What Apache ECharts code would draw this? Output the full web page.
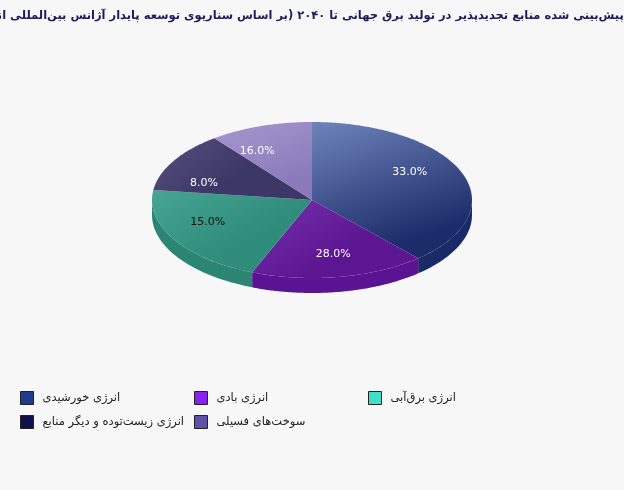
<!DOCTYPE html>
<html>
<head>
<meta charset="utf-8">
<script src="https://cdn.jsdelivr.net/npm/echarts@6/dist/echarts.min.js"></script>
<style>
  html, body { margin: 0; padding: 0; background: #f7f7f7; }
  #main { width: 624px; height: 490px; }
</style>
</head>
<body>
<div id="main"></div>
<script>
// داده‌ها
const titleText = 'سهم پیش‌بینی شده منابع تجدیدپذیر در تولید برق جهانی تا ۲۰۴۰ (بر اساس سناریوی توسعه پایدار آژانس بین‌المللی انرژی)';
const names = ['انرژی خورشیدی', 'انرژی بادی', 'انرژی برق‌آبی', 'انرژی زیست‌توده و دیگر منابع', 'سوخت‌های فسیلی'];
const values = [33, 28, 15, 8, 16];

// رنگ‌ها
const legendColors = ['#1f3b8c', '#8a22ee', '#40e0c8', '#10104f', '#5f50aa'];
const topColors = [
  ['#6f84bb', '#1c2c6a'],
  ['#7631ac', '#5c1692'],
  ['#47a594', '#2f8b7a'],
  ['#58517f', '#3d3767'],
  ['#a797cf', '#8a7aba']
];
const sideColors = ['#1a2a66', '#5a1392', '#2c8472', '#383260', '#8070b0'];
const labelColors = ['#fff', '#fff', '#111', '#fff', '#fff'];

const FONT = 'DejaVu Sans';
const cx = 312, cy = 200, rx = 160, ry = 78, depth = 15;
const total = values.reduce((a, b) => a + b, 0);

function rimPoint(deg, dy) {
  const t = deg * Math.PI / 180;
  const dx = Math.sin(t), dyv = -Math.cos(t);
  const r = 1 / Math.sqrt((dx / rx) * (dx / rx) + (dyv / ry) * (dyv / ry));
  return [cx + r * dx, cy + r * dyv + (dy || 0)];
}

function arc(a, b, dy) {
  const pts = [];
  const n = Math.max(2, Math.ceil(b - a));
  for (let k = 0; k <= n; k++) pts.push(rimPoint(a + (b - a) * k / n, dy));
  return pts;
}

function renderSlice(params, api) {
  const i = params.seriesIndex;
  let before = 0;
  for (let k = 0; k < i; k++) before += values[k];
  const a = before / total * 360;
  const b = (before + values[i]) / total * 360;
  const children = [];

  // دیواره
  const sa = Math.max(a, 90), sb = Math.min(b, 270);
  if (sa < sb) {
    const top = arc(sa, sb, 0);
    const bot = arc(sa, sb, depth).reverse();
    children.push({
      type: 'polygon', z2: 1,
      shape: { points: top.concat(bot) },
      style: { fill: sideColors[i] }
    });
  }

  // رویه
  children.push({
    type: 'polygon', z2: 2,
    shape: { points: [[cx, cy]].concat(arc(a, b, 0)) },
    style: {
      fill: new echarts.graphic.LinearGradient(0, 0, 0.3, 1, [
        { offset: 0, color: topColors[i][0] },
        { offset: 1, color: topColors[i][1] }
      ])
    }
  });

  // برچسب
  const m = (a + b) / 2 * Math.PI / 180;
  children.push({
    type: 'text', z2: 3,
    style: {
      text: (values[i] / total * 100).toFixed(1) + '%',
      x: cx + 0.71 * rx * Math.sin(m),
      y: cy - 0.71 * ry * Math.cos(m),
      fill: labelColors[i],
      font: '11px "' + FONT + '"',
      align: 'center',
      verticalAlign: 'middle'
    }
  });
  return { type: 'group', children: children };
}

const legendPos = [[20, 391], [194, 391], [368, 391], [20, 415], [194, 415]];

const option = {
  backgroundColor: '#f7f7f7',
  animation: false,
  title: {
    text: titleText,
    left: 'center',
    top: 5,
    textStyle: { fontSize: 11.5, fontWeight: 'bold', color: '#1c1c5c', fontFamily: FONT }
  },
  legend: names.map((n, i) => ({
    data: [{ name: n, icon: 'rect' }],
    left: legendPos[i][0],
    top: legendPos[i][1],
    padding: 0,
    itemWidth: 13,
    itemHeight: 13,
    selectedMode: false,
    itemStyle: { borderColor: '#222', borderWidth: 1 },
    textStyle: { color: '#222', fontSize: 11.5, fontFamily: FONT, padding: [0, 0, 0, 4] }
  })),
  series: names.map((n, i) => ({
    type: 'custom',
    name: n,
    coordinateSystem: 'none',
    itemStyle: { color: legendColors[i] },
    data: [values[i]],
    renderItem: renderSlice
  }))
};

const myChart = echarts.init(document.getElementById('main'));
myChart.setOption(option);
</script>
</body>
</html>
